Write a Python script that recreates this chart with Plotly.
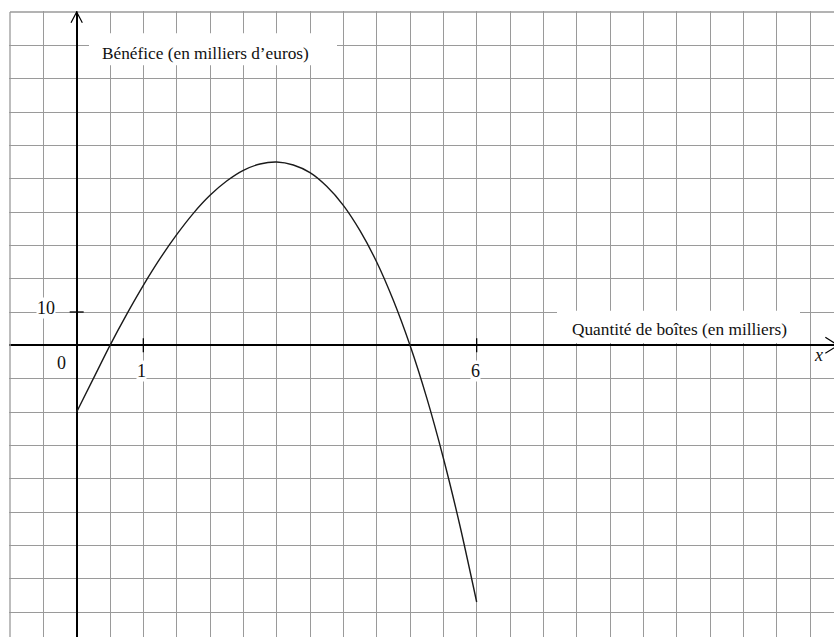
import plotly.graph_objects as go

# values (x in thousands of boxes, y in thousands of euros)
quantite = [0, 0.25, 0.5, 0.75, 1, 1.25, 1.5, 1.75, 2, 2.25, 2.5, 2.75, 3,
            3.25, 3.5, 3.75, 4, 4.25, 4.5, 4.75, 5, 5.25, 5.5, 5.75, 6]
benefice = [-20, -10, 0, 9.3, 18, 26, 33.2, 39.6, 45, 49.3, 52.5, 54.4, 55,
            54.1, 51.8, 47.7, 42, 34.4, 25, 13.5, 0, -15.7, -33.8, -54.2, -77]

x_ticks = [1, 6]
x_tick_labels = ["1", "6"]
y_ticks = [10]
y_tick_labels = ["10"]

serif = "Liberation Serif, Times New Roman, serif"
grid_col = "#9a9a9a"

fig = go.Figure()

# the curve
fig.add_trace(
    go.Scatter(
        x=quantite,
        y=benefice,
        mode="lines",
        line=dict(color="#1a1a1a", width=1.4, shape="spline", smoothing=0.8),
        hoverinfo="skip",
        showlegend=False
    )
)

# small tick marks on the axes
fig.add_trace(
    go.Scatter(
        x=x_ticks,
        y=[0] * len(x_ticks),
        mode="markers",
        marker=dict(symbol="line-ns", size=10, line=dict(color="black", width=1.3)),
        hoverinfo="skip",
        showlegend=False
    )
)

fig.add_trace(
    go.Scatter(
        x=[0] * len(y_ticks),
        y=y_ticks,
        mode="markers",
        marker=dict(symbol="line-ew", size=10, line=dict(color="black", width=1.3)),
        hoverinfo="skip",
        showlegend=False
    )
)

# outer grid border (top and left)
fig.add_shape(type="line", x0=-1, x1=11.36, y0=100, y1=100,
              line=dict(color=grid_col, width=1.3), layer="between")
fig.add_shape(type="line", x0=-1, x1=-1, y0=-87.5, y1=100,
              line=dict(color=grid_col, width=1.3), layer="between")

# white patches behind the axis titles (hide the grid there)
fig.add_shape(type="rect", x0=0.185, x1=3.905, y0=84, y1=93.6,
              fillcolor="white", line_width=0, layer="between")
fig.add_shape(type="rect", x0=7.205, x1=10.85, y0=0.7, y1=10.4,
              fillcolor="white", line_width=0, layer="between")

# arrow heads
fig.add_shape(type="path", path="M -0.085,96.8 L 0,100 L 0.085,96.8",
              line=dict(color="black", width=1.2))
fig.add_shape(type="path", path="M 11.23,2.4 L 11.42,0 L 11.23,-2.4",
              line=dict(color="black", width=1.2))

# axis titles and labels
fig.add_annotation(x=1.925, y=87.7, text="Bénéfice (en milliers d’euros)",
                   showarrow=False, font=dict(family=serif, size=17.3, color="#111"))
fig.add_annotation(x=9.035, y=4.7, text="Quantité de boîtes (en milliers)",
                   showarrow=False, font=dict(family=serif, size=17.3, color="#111"))

for xv, lab in zip(x_ticks, x_tick_labels):
    fig.add_annotation(x=xv - 0.025, y=-7.8, text=lab, showarrow=False,
                       bgcolor="white", borderpad=0,
                       font=dict(family=serif, size=18, color="#111"))

for yv, lab in zip(y_ticks, y_tick_labels):
    fig.add_annotation(x=-0.46, y=yv + 1.25, text=lab, showarrow=False,
                       bgcolor="white", borderpad=0,
                       font=dict(family=serif, size=18, color="#111"))

fig.add_annotation(x=-0.235, y=-5.4, text="0", showarrow=False,
                   font=dict(family=serif, size=18, color="#111"))
fig.add_annotation(x=11.13, y=-3, text="<i>x</i>", showarrow=False,
                   font=dict(family=serif, size=18, color="#111"))

fig.update_xaxes(
    range=[-1.015, 11.36],
    dtick=0.5,
    tick0=0,
    showgrid=True,
    gridcolor=grid_col,
    gridwidth=1.3,
    zeroline=True,
    zerolinecolor="black",
    zerolinewidth=1.5,
    showticklabels=False,
    ticks=""
)

fig.update_yaxes(
    range=[-87.5, 100.3],
    dtick=10,
    tick0=0,
    showgrid=True,
    gridcolor=grid_col,
    gridwidth=1.3,
    zeroline=True,
    zerolinecolor="black",
    zerolinewidth=1.5,
    showticklabels=False,
    ticks=""
)

fig.update_layout(
    width=834,
    height=637,
    margin=dict(l=9, r=0, t=11, b=0),
    plot_bgcolor="white",
    paper_bgcolor="white",
    showlegend=False
)

fig.write_html("out.html", config={"displayModeBar": False},
               post_script="document.body.style.margin = '0';")
